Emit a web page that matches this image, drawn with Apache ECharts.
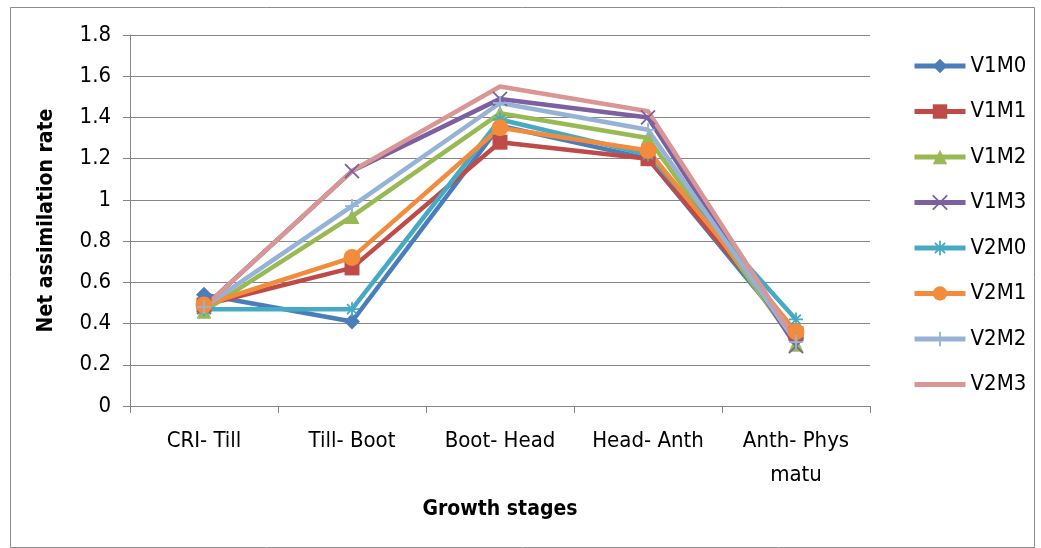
<!DOCTYPE html>
<html><head><meta charset="utf-8">
<script src="https://cdn.jsdelivr.net/npm/echarts@6/dist/echarts.min.js"></script>
<style>html,body{margin:0;padding:0;background:#fff}#c{width:1041px;height:548px}</style>
</head><body><div id="c"></div>
<script>
const categories = ['CRI- Till', 'Till- Boot', 'Boot- Head', 'Head- Anth', 'Anth- Phys\nmatu'];
const V1M0 = [0.54, 0.41, 1.36, 1.20, 0.33];
const V1M1 = [0.49, 0.67, 1.28, 1.20, 0.35];
const V1M2 = [0.46, 0.92, 1.42, 1.30, 0.30];
const V1M3 = [0.48, 1.14, 1.49, 1.40, 0.29];
const V2M0 = [0.47, 0.47, 1.39, 1.22, 0.42];
const V2M1 = [0.49, 0.72, 1.35, 1.24, 0.36];
const V2M2 = [0.48, 0.97, 1.47, 1.34, 0.31];
const V2M3 = [0.48, 1.14, 1.55, 1.43, 0.32];
const yTicks = [0, 0.2, 0.4, 0.6, 0.8, 1, 1.2, 1.4, 1.6, 1.8];

const FONT = '"DejaVu Sans Condensed", "Liberation Sans", sans-serif';
const defs = [
  {name:'V1M0', data:V1M0, color:'#4a7ebb', symbol:'diamond', size:16},
  {name:'V1M1', data:V1M1, color:'#be4b48', symbol:'rect', size:15},
  {name:'V1M2', data:V1M2, color:'#98b954', symbol:'triangle', size:15},
  {name:'V1M3', data:V1M3, color:'#7d60a0', symbol:'path://M0,0L10,10M10,0L0,10', size:14, stroke:true},
  {name:'V2M0', data:V2M0, color:'#46aac5', symbol:'path://M0,5L10,5M5,0L5,10M1.5,1.5L8.5,8.5M8.5,1.5L1.5,8.5', size:14, stroke:true},
  {name:'V2M1', data:V2M1, color:'#f38b3c', symbol:'circle', size:17},
  {name:'V2M2', data:V2M2, color:'#95b3d7', symbol:'path://M5,0L5,10M0,5L10,5', size:14, stroke:true},
  {name:'V2M3', data:V2M3, color:'#d99694', symbol:'none', size:0}
];

const series = defs.map(d => ({
  name: d.name, type: 'line', data: d.data,
  symbol: d.symbol, symbolSize: d.size, showSymbol: d.symbol !== 'none',
  lineStyle: {color: d.color, width: 4.5},
  itemStyle: d.stroke ? {color: d.color, borderColor: d.color, borderWidth: 1.8} : {color: d.color, borderWidth: 0},
  emphasis: {disabled: true},
  animation: false
}));

const legendData = defs.map(d => {
  if (d.symbol === 'none') return {name: d.name, icon: 'path://M0,0L50,0L50,5L0,5Z', symbolKeepAspect: true, itemStyle: {color: d.color}};
  if (d.stroke) return {name: d.name, itemStyle: {color: d.color, borderColor: d.color, borderWidth: 1.8}};
  return {name: d.name, itemStyle: {color: d.color, borderWidth: 0}};
});

const chart = echarts.init(document.getElementById('c'), null, {renderer: 'canvas'});
chart.setOption({
  backgroundColor: '#fff',
  animation: false,
  textStyle: {fontFamily: FONT},
  graphic: [{type:'rect', shape:{x:10.5, y:7.5, width:1024, height:540}, style:{fill:'none', stroke:'#8c8c8c', lineWidth:1}, silent:true}],
  grid: {left: 130, right: 171, top: 35, bottom: 142},
  legend: {
    orient: 'vertical', left: 907, top: 50, itemWidth: 51, itemHeight: 18, itemGap: 23.5,
    lineStyle: {width: 5},
    textStyle: {fontSize: 22, color: '#000', fontFamily: FONT},
    data: legendData
  },
  xAxis: {
    type: 'category', data: categories, boundaryGap: true,
    name: 'Growth stages', nameLocation: 'middle', nameGap: 93,
    nameTextStyle: {fontSize: 21, fontWeight: 'bold', color: '#000', fontFamily: FONT},
    axisLine: {lineStyle: {color: '#868686', width: 1}},
    axisTick: {show: true, alignWithLabel: false, length: 7, lineStyle: {color: '#868686'}},
    axisLabel: {interval: 0, fontSize: 22, color: '#000', margin: 18, lineHeight: 34, fontFamily: FONT}
  },
  yAxis: {
    type: 'value', min: 0, max: 1.8, interval: 0.2,
    name: 'Net assimilation rate', nameLocation: 'middle', nameGap: 73, nameRotate: 90,
    nameTextStyle: {fontSize: 21, fontWeight: 'bold', color: '#000', fontFamily: FONT},
    axisLine: {show: true, lineStyle: {color: '#868686', width: 1}},
    axisTick: {show: true, length: 7, lineStyle: {color: '#868686'}},
    axisLabel: {fontSize: 22, color: '#000', margin: 19, fontFamily: FONT,
      formatter: v => { const t = yTicks.find(x => Math.abs(x - v) < 1e-9); return t === undefined ? '' : String(t); }},
    splitLine: {show: true, lineStyle: {color: '#868686', width: 1}}
  },
  series: series
});
</script></body></html>
